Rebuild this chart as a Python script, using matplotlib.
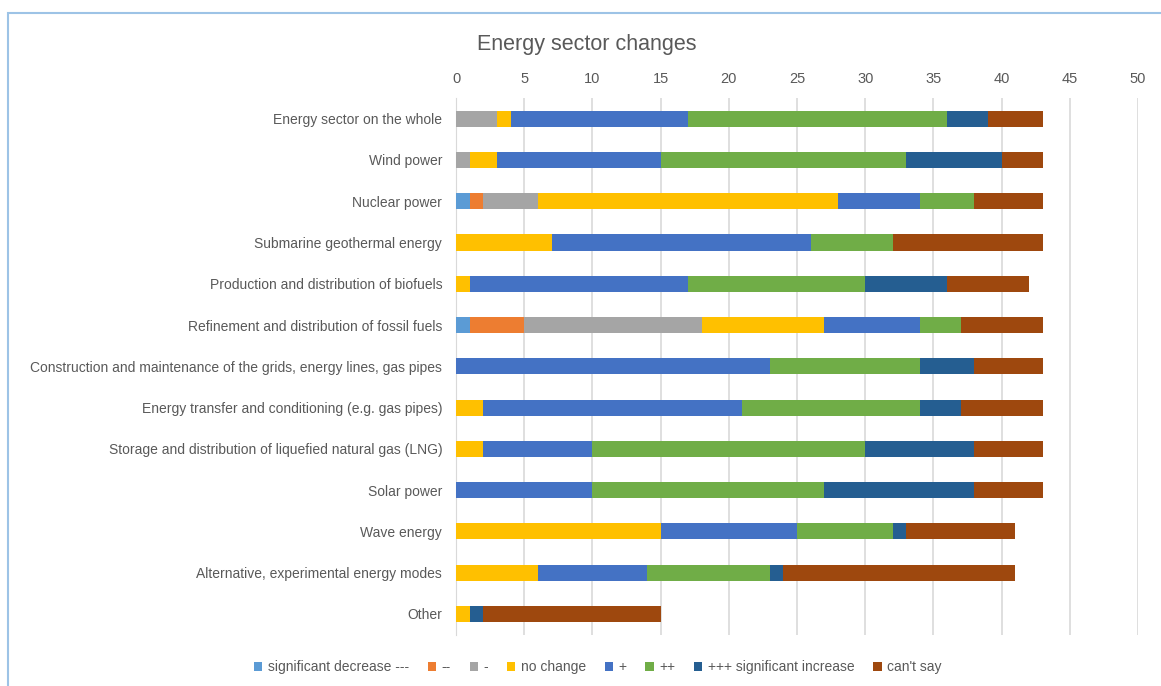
import numpy as np
import matplotlib.pyplot as plt
from matplotlib.patches import Rectangle

plt.rcParams['font.family'] = ['Liberation Sans', 'DejaVu Sans']

categories = [
    "Energy sector on the whole",
    "Wind power",
    "Nuclear power",
    "Submarine geothermal energy",
    "Production and distribution of biofuels",
    "Refinement and distribution of fossil fuels",
    "Construction and maintenance of the grids, energy lines, gas pipes",
    "Energy transfer and conditioning (e.g. gas pipes)",
    "Storage and distribution of liquefied natural gas (LNG)",
    "Solar power",
    "Wave energy",
    "Alternative, experimental energy modes",
    "Other",
]

series_names = ["significant decrease ---", "--", "-", "no change", "+", "++",
                "+++ significant increase", "can't say"]
colors = ["#5b9bd5", "#ed7d31", "#a5a5a5", "#ffc000", "#4472c4", "#70ad47",
          "#255e91", "#9e480e"]

sig_decrease = [0, 0, 1, 0, 0, 1, 0, 0, 0, 0, 0, 0, 0]
minus2 = [0, 0, 1, 0, 0, 4, 0, 0, 0, 0, 0, 0, 0]
minus1 = [3, 1, 4, 0, 0, 13, 0, 0, 0, 0, 0, 0, 0]
no_change = [1, 2, 22, 7, 1, 9, 0, 2, 2, 0, 15, 6, 1]
plus1 = [13, 12, 6, 19, 16, 7, 23, 19, 8, 10, 10, 8, 0]
plus2 = [19, 18, 4, 6, 13, 3, 11, 13, 20, 17, 7, 9, 0]
sig_increase = [3, 7, 0, 0, 6, 0, 4, 3, 8, 11, 1, 1, 1]
cant_say = [4, 3, 5, 11, 6, 6, 5, 6, 5, 5, 8, 17, 13]

series = [sig_decrease, minus2, minus1, no_change, plus1, plus2, sig_increase, cant_say]

fig = plt.figure(figsize=(11.61, 6.86), dpi=100)
ax = fig.add_axes([0.3928, 0.0750, 0.5874, 0.7820])

y = np.arange(len(categories))
left = np.zeros(len(categories))
for name, vals, c in zip(series_names, series, colors):
    vals = np.array(vals, dtype=float)
    ax.barh(y, vals, left=left, height=0.39, color=c, label=name, zorder=3)
    left += vals

ax.set_xlim(0, 50)
ax.set_ylim(len(categories) - 0.5, -0.5)
ax.set_xticks(range(0, 51, 5))
ax.xaxis.tick_top()
ax.set_yticks(y)
ax.set_yticklabels(categories)
ax.tick_params(axis='both', length=0, colors='#595959', labelsize=10)
ax.tick_params(axis='x', pad=9, labelsize=10.5)
ax.tick_params(axis='y', pad=10)
ax.grid(axis='x', color='#d9d9d9', linewidth=1.2, zorder=0)
for s in ['top', 'right', 'bottom']:
    ax.spines[s].set_visible(False)
ax.spines['left'].set_color('#d9d9d9')

fig.text(0.5056, 0.935, "Energy sector changes", ha='center', va='center',
         fontsize=15.5, color='#595959')

fig.legend(*ax.get_legend_handles_labels(), loc='center', ncol=8,
           bbox_to_anchor=(0.515, 0.027), frameon=False, fontsize=10,
           handlelength=0.6, handleheight=0.6, handletextpad=0.4,
           columnspacing=1.35, labelcolor='#595959')

# chart area border
fig.patches.append(Rectangle((8 / 1161, -0.05), 1.2, 1 - 13 / 686 + 0.05,
                             transform=fig.transFigure, fill=False,
                             edgecolor='#9dc3e6', linewidth=1.5))

fig.savefig("out.png", dpi=100)
